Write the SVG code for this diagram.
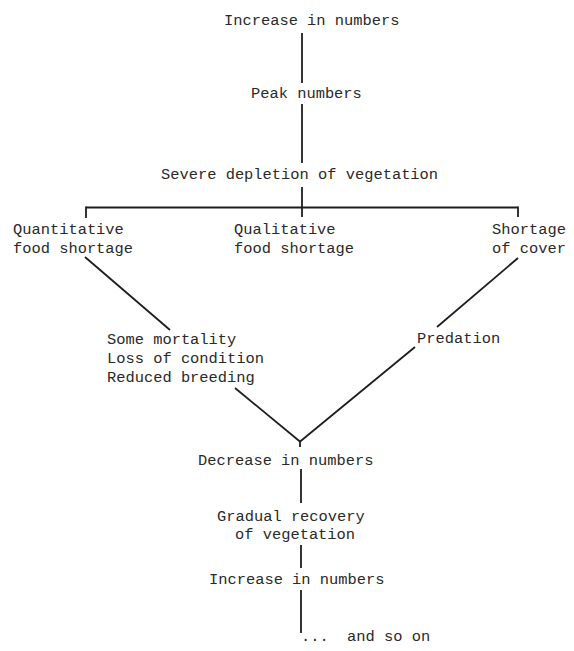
<svg xmlns="http://www.w3.org/2000/svg" width="574" height="651" viewBox="0 0 574 651">
<style>
text{font-family:"Liberation Mono","Courier New",monospace;font-size:15.4px;fill:#2a2a2a}
.c line{stroke:#1e1e1e;stroke-width:1.8;stroke-linecap:butt;fill:none}
</style>
<rect width="574" height="651" fill="#ffffff"/>
<g id="n-increase1"><text x="224" y="25">Increase in numbers</text></g>
<g id="n-peak"><text x="251" y="98">Peak numbers</text></g>
<g id="n-severe"><text x="161" y="179">Severe depletion of vegetation</text></g>
<g id="n-quant"><text x="13" y="234">Quantitative</text><text x="13" y="253">food shortage</text></g>
<g id="n-qual"><text x="234" y="234">Qualitative</text><text x="234" y="253">food shortage</text></g>
<g id="n-cover"><text x="492" y="234">Shortage</text><text x="492" y="253">of cover</text></g>
<g id="n-mortality"><text x="107" y="344">Some mortality</text><text x="107" y="363">Loss of condition</text><text x="107" y="382">Reduced breeding</text></g>
<g id="n-predation"><text x="417" y="343">Predation</text></g>
<g id="n-decrease"><text x="198" y="465">Decrease in numbers</text></g>
<g id="n-recovery"><text x="217" y="520.5">Gradual recovery</text><text x="235" y="538.5">of vegetation</text></g>
<g id="n-increase2"><text x="209" y="584">Increase in numbers</text></g>
<g id="n-soon"><text x="301" y="641">...<tspan x="347">and so on</tspan></text></g>
<g id="connectors" class="c">
<line x1="302" y1="33" x2="302" y2="83"/>
<line x1="302" y1="104" x2="302" y2="163"/>
<line x1="302" y1="187" x2="302" y2="217"/>
<line x1="86" y1="207.5" x2="518" y2="207.5"/>
<line x1="86" y1="206.6" x2="86" y2="218"/>
<line x1="518" y1="206.6" x2="518" y2="217"/>
<line x1="85" y1="257" x2="170" y2="330"/>
<line x1="518" y1="258" x2="437" y2="327"/>
<line x1="235" y1="388" x2="300.5" y2="442"/>
<line x1="415" y1="347" x2="299.5" y2="442"/>
<line x1="300" y1="441" x2="300" y2="447"/>
<line x1="301" y1="469" x2="301" y2="503"/>
<line x1="301" y1="545" x2="301" y2="568"/>
<line x1="301" y1="590" x2="301" y2="633"/>
</g>
</svg>
